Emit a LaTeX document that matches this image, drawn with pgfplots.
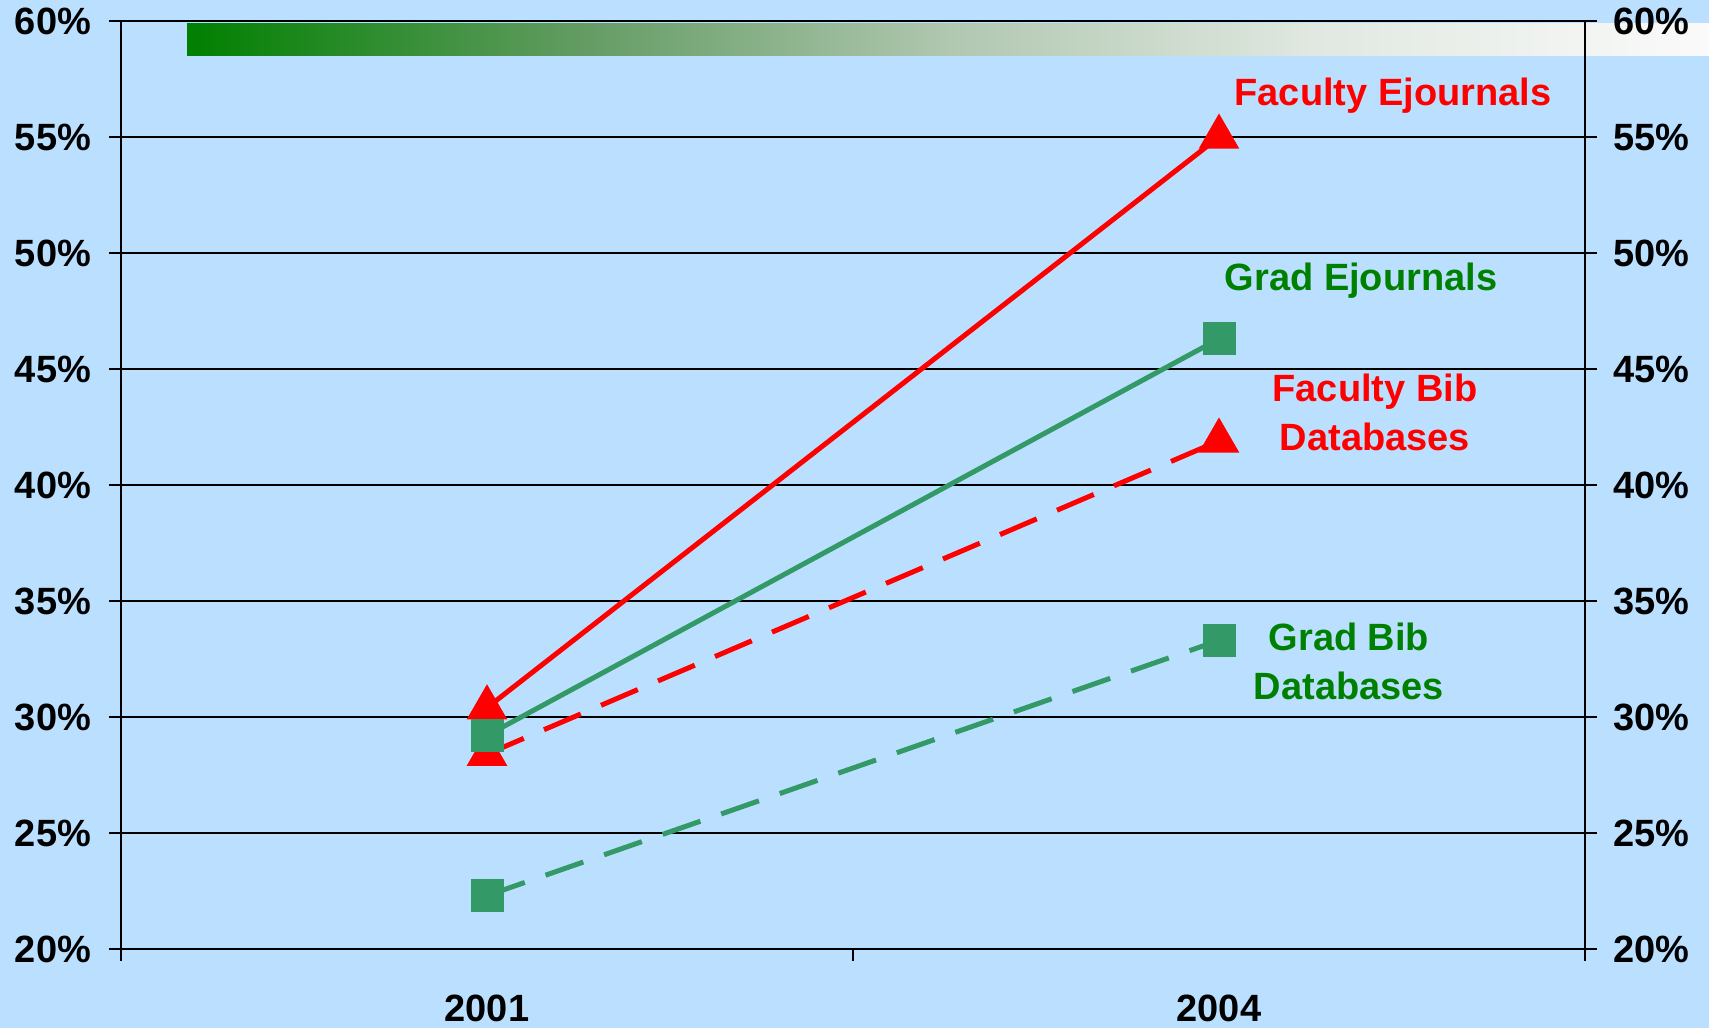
\documentclass[border=0pt]{standalone}
\usepackage{pgfplots}
\pgfplotsset{compat=1.18}
\usepackage{fontspec}
\setmainfont{Liberation Sans}
\definecolor{bg}{RGB}{187,224,255}
\definecolor{lgreen}{RGB}{51,153,102}
\definecolor{tgreen}{RGB}{0,128,0}
\pgfdeclarehorizontalshading{greenfade}{100bp}{rgb(0bp)=(0,0.5,0); rgb(25bp)=(0,0.5,0); rgb(38bp)=(0.39,0.61,0.39); rgb(50bp)=(0.69,0.78,0.69); rgb(62bp)=(0.88,0.91,0.88); rgb(75bp)=(0.98,0.98,0.98); rgb(100bp)=(0.98,0.98,0.98)}
\newcommand{\lf}{\fontsize{15.2pt}{19.6pt}\selectfont\bfseries}
\begin{document}
\begin{tikzpicture}
\path[use as bounding box, fill=bg] (0,0) rectangle (683.6pt,411.2pt);
\shade[shading=greenfade] (74.8pt,388.8pt) rectangle (683.6pt,401.6pt);
\begin{axis}[
  at={(48.4pt,31.6pt)}, anchor=south west,
  scale only axis, width=585.6pt, height=371.2pt,
  xmin=-0.5, xmax=1.5, ymin=20, ymax=60,
  xtick={-0.5,0.5,1.5}, xticklabels={},
  extra x ticks={0,1}, extra x tick labels={2001,2004},
  extra x tick style={major tick length=0pt, xticklabel style={yshift=-15pt}},
  ytick={20,25,...,60},
  yticklabels={20\%,25\%,30\%,35\%,40\%,45\%,50\%,55\%,60\%},
  tick align=outside, major tick length=4.8pt,
  xtick pos=bottom, ytick pos=both,
  tick style={black, line width=0.5pt},
  ymajorgrids, grid style={black, line width=0.6pt},
  axis line style={black, line width=0.6pt},
  ticklabel style={font=\lf},
  yticklabel style={inner sep=0pt, xshift=-7pt},
  clip=false,
]
\addplot[red, line width=2pt, mark=triangle*, mark size=7.4pt, mark options={solid}] coordinates {(0,30.4) (1,55.0)};
\addplot[red, line width=2pt, dash pattern=on 16pt off 8.8pt, mark=triangle*, mark size=7.4pt, mark options={solid}] coordinates {(0,28.4) (1,41.9)};
\addplot[lgreen, line width=2pt, dash pattern=on 16pt off 8.8pt, mark=square*, mark size=5.6pt, mark options={solid}] coordinates {(0,22.3) (1,33.3)};
\addplot[lgreen, line width=2pt, mark=square*, mark size=5.6pt, mark options={solid}] coordinates {(0,29.2) (1,46.3)};
\draw[black, line width=1pt] (rel axis cs:0,0) -- (rel axis cs:1,0);
\end{axis}
\begin{axis}[
  at={(48.4pt,31.6pt)}, anchor=south west,
  scale only axis, width=585.6pt, height=371.2pt,
  xmin=-0.5, xmax=1.5, ymin=20, ymax=60,
  hide x axis,
  axis y line*=right,
  y axis line style={draw=none},
  ytick={20,25,...,60},
  yticklabels={20\%,25\%,30\%,35\%,40\%,45\%,50\%,55\%,60\%},
  ytick style={draw=none},
  ticklabel style={font=\lf},
  yticklabel style={inner sep=0pt, xshift=11pt},
]
\addplot[draw=none] coordinates {(0,30)};
\end{axis}
\node[red, font=\lf] at (557.2pt,372.8pt) {Faculty Ejournals};
\node[tgreen, font=\lf] at (544.4pt,298.8pt) {Grad Ejournals};
\node[red, font=\lf, align=center] at (550pt,246.2pt) {Faculty Bib\\Databases};
\node[tgreen, font=\lf, align=center] at (539.6pt,146.6pt) {Grad Bib\\Databases};
\end{tikzpicture}
\end{document}
